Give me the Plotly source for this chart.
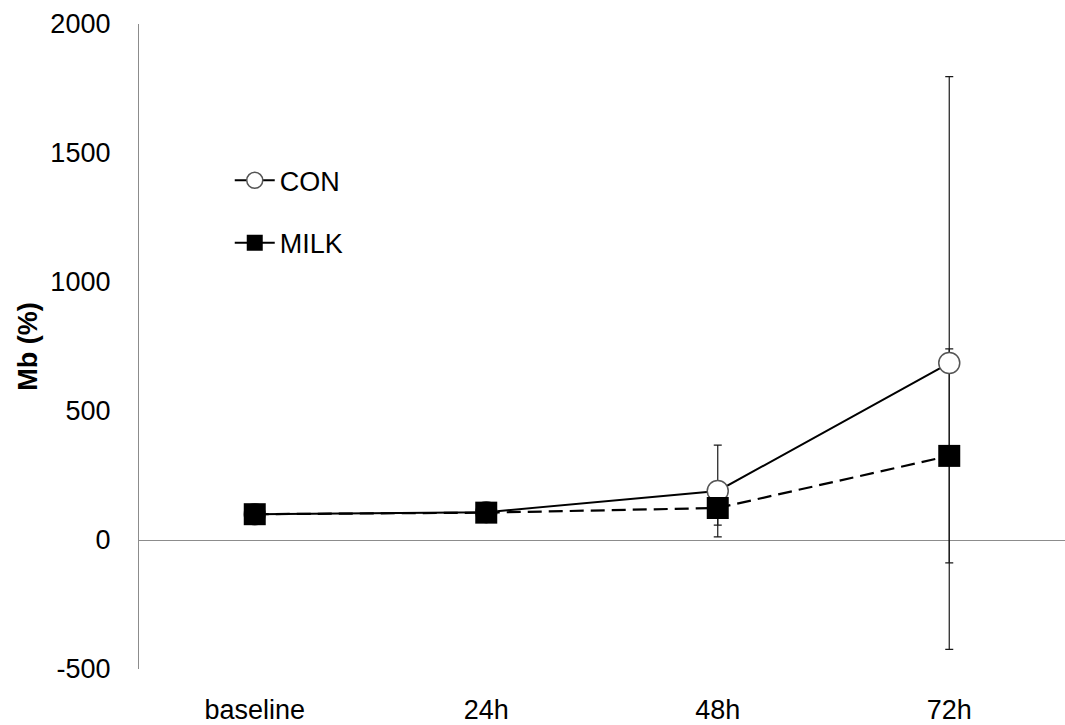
import plotly.graph_objects as go

# Time points and myoglobin change (% of baseline)
timepoints = ["baseline", "24h", "48h", "72h"]
con_mean = [100, 108, 190, 686]
con_err = [0, 0, 178, 1110]
milk_mean = [100, 106, 124, 326]
milk_err = [0, 0, 66, 415]

y_ticks = [-500, 0, 500, 1000, 1500, 2000]
y_tick_text = ["-500", "0", "500", "1000", "1500", "2000"]

FONT = "Liberation Sans, Arial, sans-serif"
AXIS_GRAY = "#8c8c8c"
FS = 27

fig = go.Figure()

# error bars first so the markers sit on top of them
fig.add_trace(go.Scatter(
    x=timepoints, y=con_mean, mode="markers",
    marker=dict(size=1, color="rgba(0,0,0,0)"),
    error_y=dict(type="data", array=con_err, visible=True,
                 color="#1a1a1a", thickness=1.2, width=4),
    showlegend=False, hoverinfo="skip",
))
fig.add_trace(go.Scatter(
    x=timepoints, y=milk_mean, mode="markers",
    marker=dict(size=1, color="rgba(0,0,0,0)"),
    error_y=dict(type="data", array=milk_err, visible=True,
                 color="#1a1a1a", thickness=1.2, width=4),
    showlegend=False, hoverinfo="skip",
))

con_marker = dict(symbol="circle", size=21, color="white",
                  line=dict(color="#555555", width=1.5))
milk_marker = dict(symbol="square", size=22, color="black",
                   line=dict(color="black", width=0))

# CON: solid line, open circles
fig.add_trace(go.Scatter(
    x=timepoints, y=con_mean, mode="lines+markers", name="CON",
    line=dict(color="black", width=2),
    marker=con_marker, showlegend=False,
))
# MILK: dashed line, filled squares
fig.add_trace(go.Scatter(
    x=timepoints, y=milk_mean, mode="lines+markers", name="MILK",
    line=dict(color="black", width=2.2, dash="14px,7px"),
    marker=milk_marker, showlegend=False,
))

# legend keys (solid line with the series marker)
fig.add_trace(go.Scatter(
    x=[None], y=[None], mode="lines+markers", name="CON",
    line=dict(color="black", width=2), marker=con_marker,
    legend="legend",
))
fig.add_trace(go.Scatter(
    x=[None], y=[None], mode="lines+markers", name="MILK",
    line=dict(color="black", width=2), marker=milk_marker,
    legend="legend2",
))

legend_common = dict(
    bgcolor="rgba(0,0,0,0)", borderwidth=0,
    font=dict(family=FONT, size=FS, color="black"),
    xanchor="left", yanchor="middle", itemwidth=40,
)

fig.update_layout(
    width=1065, height=725,
    margin=dict(l=139, r=0, t=24, b=56),
    paper_bgcolor="white", plot_bgcolor="white",
    font=dict(family=FONT, size=FS, color="black"),
    xaxis=dict(
        type="category", range=[-0.5, 3.5],
        showgrid=False, zeroline=False, showline=False,
        ticks="outside", ticklen=17, tickcolor="rgba(0,0,0,0)",
        tickfont=dict(family=FONT, size=FS, color="black"),
    ),
    yaxis=dict(
        range=[-500, 2000], tickvals=y_ticks, ticktext=y_tick_text,
        showgrid=False,
        zeroline=True, zerolinecolor=AXIS_GRAY, zerolinewidth=1.3,
        showline=True, linecolor=AXIS_GRAY, linewidth=1.3,
        ticks="outside", ticklen=22, tickcolor="rgba(0,0,0,0)",
        tickfont=dict(family=FONT, size=FS, color="black"),
        title=dict(text="<b>Mb (%)</b>", standoff=4,
                   font=dict(family=FONT, size=FS, color="black")),
    ),
    legend=dict(x=0.098, y=0.757, **legend_common),
    legend2=dict(x=0.098, y=0.660, **legend_common),
    showlegend=True,
)

fig.write_html("out.html")
